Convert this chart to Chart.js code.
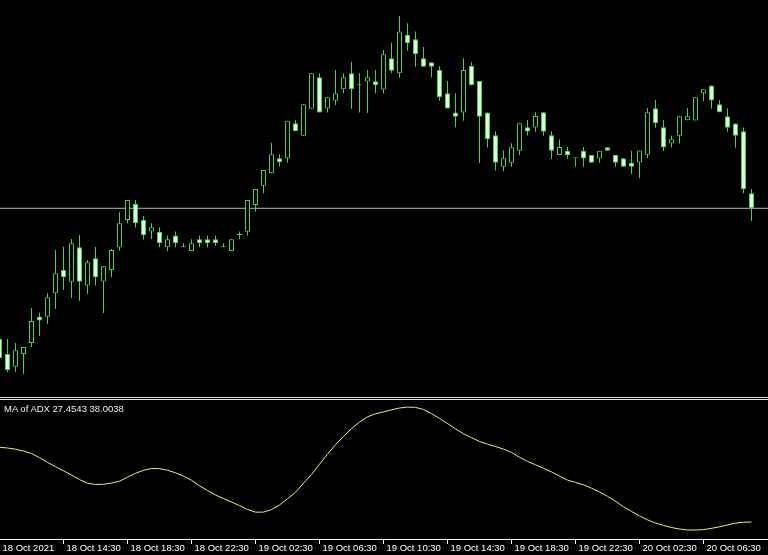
<!DOCTYPE html>
<html><head><meta charset="utf-8">
<script src="https://cdn.jsdelivr.net/npm/chart.js@4.4.0/dist/chart.umd.min.js"></script>
<style>
html,body{margin:0;padding:0;background:#000;width:768px;height:555px;overflow:hidden;}
#w1{position:absolute;left:0;top:0;width:768px;height:397px;}
#w2{position:absolute;left:0;top:397px;width:768px;height:158px;}
#lbl{position:absolute;left:4px;top:403px;font-size:9.5px;line-height:12px;font-family:'Liberation Sans',Arial,sans-serif;color:#eeeeee;white-space:nowrap;}
</style></head><body>
<div id="w1"><canvas id="c1" width="768" height="397"></canvas></div>
<div id="w2"><canvas id="c2" width="768" height="158"></canvas></div>
<div id="lbl">MA of ADX 27.4543 38.0038</div>
<script>
// M30 candles, 18 Oct 2021 10:30 .. 20 Oct 2021 07:00 (price in points)
const openP = [
61,46,33.3,46,57,83.5,83.3,106.7,130,118.3,
152.7,114.5,141.7,118.5,130,152.5,180,196,180,168.5,
168.3,152.7,164.5,152.7,149,160.7,160.7,160.7,152.7,149,
165,168.3,195,214.3,226.7,241.7,241.7,276.7,264.3,291.3,
322.7,291.5,299.3,310.7,326.7,314.7,318.5,318.7,310.5,341.7,
326.7,365,360.7,341.7,337.7,330,306.7,287.5,287.5,334,
319,287.5,264.7,233.3,237.3,249.3,272.7,272.5,287.7,264.7,
245,249.3,241.7,249.3,245,241.5,252.7,245,241.7,237.3,
237.5,245.3,291.7,272.7,256.5,264.3,279.8,279.5,306.7,314.5,
295.7,283.8,276.5,268.7,206.7];
const highP = [
65,61,57,53,92,87.5,106.7,150,153.3,161,
165,140,153,134,151,187.7,200,200,184,176.7,
172.7,164.5,168.5,156.7,160.7,164.5,164.5,164.5,156.7,160.7,
168.5,200,211,230,257.3,245.7,279.3,280,295.7,326.7,
326.7,302.7,330,326.7,338,326.7,330,330,350,357.3,
384,376.7,368.5,353,337.7,333.7,319,306.7,341.7,337.7,
319,287.5,268.7,249.5,256.7,276.7,280,287.7,287.7,268.7,
260.7,253.3,241.7,253,245,249.3,252.7,245,241.7,249.3,
249.5,292,300,280,264.3,283.8,292,302.7,310.7,314.5,
299.8,291.7,276.5,272.5,210.7];
const lowP = [
38,28,28,26,53,64,76,91,110,102,
99,106,114.5,87,122.7,149.3,176.7,172.5,160.5,160.7,
152.7,149,152.7,152.7,149,152.7,152.7,154,152.7,149,
160.7,164.5,188.3,206.7,226.7,233.3,237.3,268.7,264.3,291.3,
287.5,287.5,295,306.7,291,287.5,287,306.7,306.5,326.7,
322.3,349.3,333.3,333.3,322.5,299.3,291.5,272.7,279.3,314.7,
237,252.5,229.5,229,233.3,245,264.5,268.3,264.3,241,
245,241.3,233.3,233.3,237.3,237.3,249.3,233.3,233.3,226,
222,241.7,272.3,249,252.5,256.5,279.8,279.5,299,291.3,
287.7,268.3,252.3,206.7,179];
const closeP = [
42,30,49.7,53,79,79.5,102.7,126.7,122.7,156.7,
118.3,137.7,122.7,133.7,150,176.7,200,176.7,164.7,172.7,
156.7,160.7,156.7,152.7,156.7,156.7,156.7,156.7,152.7,160.7,
165,200,211,230,245.7,237.7,279.3,268.7,295.7,326.7,
287.5,302.7,306.7,322.7,310.7,314.7,322.7,314.7,345.7,329.3,
368.5,356.7,345.7,333.3,333.3,302.7,291.5,283.3,330,314.7,
283.3,260.7,237.3,241.7,252.7,276.7,268.5,284,268.3,249.3,
253,245,241.7,241.5,237.3,249.3,249.3,237.3,233.3,233.3,
249.5,287.7,276.7,252.5,260.7,283.8,283.8,302.7,310.7,299.5,
287.7,272.3,264.3,210.7,191.7];
const maADX = [
46.13,45.95,45.65,45.2,44.58,43.53,42.35,41.28,40.25,39.2,
38.05,37.13,36.83,36.88,37.18,37.65,38.65,39.63,40.38,40.83,
40.78,40.4,39.75,38.9,37.9,36.5,35.33,34.2,33.3,32.45,
31.53,30.6,29.9,29.93,30.55,31.7,33.25,34.88,37.18,39.3,
41.9,44.38,46.78,48.85,50.78,52.43,53.75,54.5,54.98,55.5,
55.95,56.18,56.1,55.58,54.55,53.35,52.08,50.73,49.5,48.55,
47.58,46.88,46.33,45.68,44.83,43.65,42.6,41.75,40.88,39.98,
38.93,37.93,37.35,36.75,35.9,34.95,33.88,32.63,31.25,30.08,
28.98,27.98,27.2,26.6,26.07,25.7,25.45,25.45,25.55,25.87,
26.25,26.72,27.17,27.38,27.45];
const tickBars = [0,8,16,24,32,40,48,56,64,72,80,88];
const tickLabels = ['18 Oct 2021','18 Oct 14:30','18 Oct 18:30','18 Oct 22:30','19 Oct 02:30','19 Oct 06:30',
  '19 Oct 10:30','19 Oct 14:30','19 Oct 18:30','19 Oct 22:30','20 Oct 02:30','20 Oct 06:30'];

const FONT = "'Liberation Sans',Arial,sans-serif";
const GREEN = '#48d048';
const BEAR = '#dcffdc';
const bars = openP.map((_, k) => k);
const bid = closeP[closeP.length - 1];
const XMIN = 0.0625, XMAX = 96.0625;

new Chart(document.getElementById('c1'), {
  type: 'bar',
  data: { datasets: [
    { type:'bar', label:'body', data: bars.map(k => ({x:k, y:[openP[k], closeP[k]]})),
      backgroundColor: bars.map(k => closeP[k] >= openP[k] ? '#000000' : BEAR),
      borderColor: GREEN, borderWidth: 1, borderSkipped: false, barThickness: 5, minBarLength: 1,
      grouped: false, inflateAmount: 0, order: 0 },
    { type:'bar', label:'wick', data: bars.map(k => ({x:k, y:[lowP[k], highP[k]]})),
      backgroundColor: GREEN, borderWidth: 0, barThickness: 1, grouped: false, inflateAmount: 0, order: 1 },
    { type:'line', label:'bid', data: [{x:-2, y:bid}, {x:98, y:bid}], borderColor:'#b8b8b8', borderWidth: 1,
      pointRadius: 0, order: 2 }
  ]},
  options: {
    responsive: false, animation: false, events: [],
    layout: { padding: 0 },
    plugins: { legend: { display: false }, tooltip: { enabled: false } },
    scales: {
      x: { type:'linear', min: XMIN, max: XMAX, offset: false, grid: { offset: false }, display: false },
      y: { type:'linear', min: 3, max: 400, display: false }
    }
  }
});

const sepPlugin = { id: 'sep', afterDraw(chart) {
  const c = chart.ctx; c.save(); c.fillStyle = '#e6e6e6';
  c.fillRect(0, 0, chart.width, 1); c.fillRect(0, 2, chart.width, 1); c.restore(); } };

new Chart(document.getElementById('c2'), {
  type: 'line',
  data: { datasets: [
    { label:'MA of ADX', data: bars.map(k => ({x:k, y:maADX[k]})), borderColor:'#ecec80', borderWidth: 1,
      pointRadius: 0, tension: 0 }
  ]},
  options: {
    responsive: false, animation: false, events: [],
    layout: { padding: { top: 3, left: 0, right: 0, bottom: 0 } },
    plugins: { legend: { display: false }, tooltip: { enabled: false } },
    scales: {
      x: { type:'linear', min: XMIN, max: XMAX, position:'bottom', offset: false,
        afterBuildTicks: s => { s.ticks = tickBars.map(v => ({ value: v })); },
        afterFit: s => { s.height = 16; },
        ticks: { autoSkip: false, maxRotation: 0, minRotation: 0, align: 'start', labelOffset: 3, padding: -1,
          color: '#ffffff', font: { family: FONT, size: 9.5 },
          callback: v => tickLabels[tickBars.indexOf(v)] },
        grid: { display: true, drawOnChartArea: false, drawTicks: true, tickLength: 5,
          color: c => c.index === 0 ? 'rgba(0,0,0,0)' : '#ffffff', lineWidth: 1 },
        border: { display: true, color: '#ffffff', width: 1 }
      },
      y: { type:'linear', min: 23.2, max: 57.95, display: false }
    }
  },
  plugins: [sepPlugin]
});
</script>
</body></html>
